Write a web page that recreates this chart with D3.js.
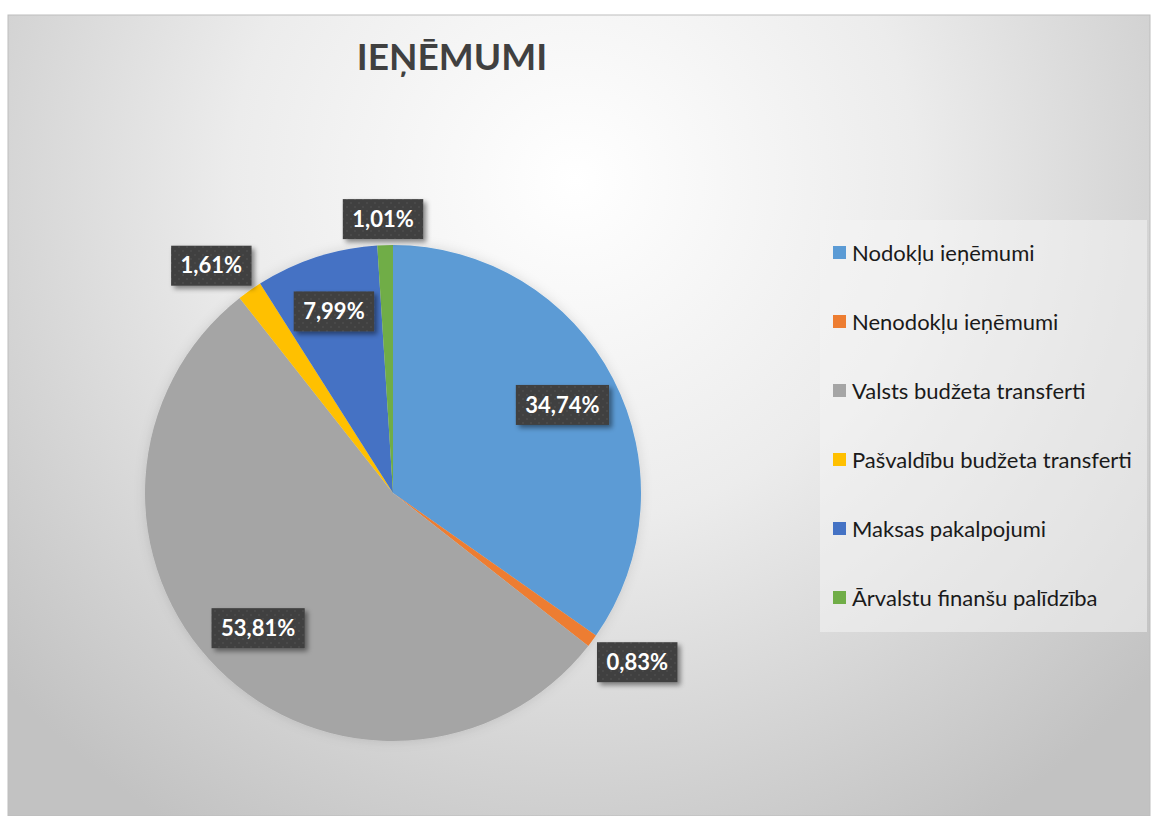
<!DOCTYPE html>
<html>
<head>
<meta charset="utf-8">
<script src="https://cdn.jsdelivr.net/npm/d3@7"></script>
<style>
  body { margin: 0; background: #fff; }
  svg { display: block; font-family: Lato, "Open Sans", sans-serif; }
</style>
</head>
<body>
<svg id="chart"></svg>
<script>
const categories = [
  "Nodokļu ieņēmumi",
  "Nenodokļu ieņēmumi",
  "Valsts budžeta transferti",
  "Pašvaldību budžeta transferti",
  "Maksas pakalpojumi",
  "Ārvalstu finanšu palīdzība"
];
const shares = [34.74, 0.83, 53.81, 1.61, 7.99, 1.01];
const colors = ["#5b9bd5", "#ed7d31", "#a5a5a5", "#ffc000", "#4472c4", "#70ad47"];
const title = "IEŅĒMUMI";

const width = 1152;
const height = 816;
const cx = 393, cy = 493, radius = 248;

const data = categories.map((c, i) => ({ name: c, value: shares[i], color: colors[i] }));

const svg = d3.select("#chart")
    .attr("width", width)
    .attr("height", height);

const defs = svg.append("defs");

// background radial gradient
const grad = defs.append("radialGradient")
    .attr("id", "bg")
    .attr("gradientUnits", "userSpaceOnUse")
    .attr("cx", 575).attr("cy", 180).attr("r", 760);
grad.append("stop").attr("offset", "0%").attr("stop-color", "#ffffff");
grad.append("stop").attr("offset", "45%").attr("stop-color", "#ececec");
grad.append("stop").attr("offset", "100%").attr("stop-color", "#c2c2c2");

// dotted pattern for label boxes
const pat = defs.append("pattern")
    .attr("id", "dots")
    .attr("patternUnits", "userSpaceOnUse")
    .attr("width", 8).attr("height", 8);
pat.append("rect").attr("width", 8).attr("height", 8).attr("fill", "#3f3f3f");
pat.append("circle").attr("cx", 2).attr("cy", 2).attr("r", 1).attr("fill", "#4c4c4c");
pat.append("circle").attr("cx", 6).attr("cy", 6).attr("r", 1).attr("fill", "#4c4c4c");

const shadow = defs.append("filter").attr("id", "boxShadow")
    .attr("x", "-20%").attr("y", "-30%").attr("width", "150%").attr("height", "170%");
shadow.append("feDropShadow")
    .attr("dx", 3).attr("dy", 3).attr("stdDeviation", 2.5)
    .attr("flood-color", "#000").attr("flood-opacity", 0.45);

const pieShadow = defs.append("filter").attr("id", "pieShadow")
    .attr("x", "-20%").attr("y", "-20%").attr("width", "140%").attr("height", "140%");
pieShadow.append("feDropShadow")
    .attr("dx", 0).attr("dy", 0).attr("stdDeviation", 6)
    .attr("flood-color", "#000").attr("flood-opacity", 0.12);

// chart area
svg.append("rect")
    .attr("x", 8).attr("y", 15)
    .attr("width", 1142).attr("height", 801)
    .attr("fill", "url(#bg)")
    .attr("stroke", "#bdbdbd")
    .attr("stroke-width", 1);

svg.append("text")
    .attr("x", 452)
    .attr("y", 70)
    .attr("text-anchor", "middle")
    .style("font-size", "37px")
    .style("font-weight", "bold")
    .attr("fill", "#404040")
    .text(title);

// pie
const pie = d3.pie().value(d => d.value).sort(null);
const arc = d3.arc().innerRadius(0).outerRadius(radius);
const arcs = pie(data);

const g = svg.append("g")
    .attr("transform", `translate(${cx},${cy})`);

g.append("g")
    .attr("filter", "url(#pieShadow)")
  .selectAll("path")
  .data(arcs)
  .join("path")
    .attr("d", arc)
    .attr("fill", d => d.data.color);

// data labels
const fmt = v => v.toFixed(2).replace(".", ",") + "%";
const labels = g.append("g").selectAll("g")
  .data(arcs)
  .join("g");

labels.each(function(d) {
  const sel = d3.select(this);
  const t = sel.append("text")
      .attr("text-anchor", "middle")
      .attr("dy", "0.35em")
      .attr("fill", "#fff")
      .style("font-size", "22px")
      .style("font-weight", "bold")
      .text(fmt(d.data.value));
  const w = t.node().getComputedTextLength() + 19;
  const h = 40;
  const mid = (d.startAngle + d.endAngle) / 2;
  const s = Math.sin(mid), c = Math.cos(mid);
  let x, y;
  if (d.data.value < 2) {
    const ax = (radius + 6) * s, ay = -(radius + 6) * c;
    const k = v => Math.max(-1, Math.min(1, v * 1.5));
    x = ax + (w / 2) * k(s);
    y = ay - (h / 2) * k(c);
  } else {
    const rr = radius * 0.77;
    x = rr * s;
    y = -rr * c;
  }
  sel.insert("rect", "text")
      .attr("x", x - w / 2)
      .attr("y", y - h / 2)
      .attr("width", w)
      .attr("height", h)
      .attr("fill", "url(#dots)")
      .attr("filter", "url(#boxShadow)");
  t.attr("x", x).attr("y", y);
});

// legend
const legend = svg.append("g");
legend.append("rect")
    .attr("x", 820).attr("y", 220)
    .attr("width", 327).attr("height", 412)
    .attr("fill", "#f4f4f4")
    .attr("fill-opacity", 0.55);

const rowY = d3.scalePoint()
    .domain(categories)
    .range([253, 598]);

const items = legend.selectAll("g.item")
  .data(data)
  .join("g")
    .attr("class", "item")
    .attr("transform", d => `translate(833,${rowY(d.name)})`);

items.append("rect")
    .attr("x", 0).attr("y", -7)
    .attr("width", 13).attr("height", 13)
    .attr("fill", d => d.color);

items.append("text")
    .attr("x", 19)
    .attr("dy", "0.35em")
    .attr("fill", "#1a1a1a")
    .style("font-size", "22px")
    .text(d => d.name);
</script>
</body>
</html>
